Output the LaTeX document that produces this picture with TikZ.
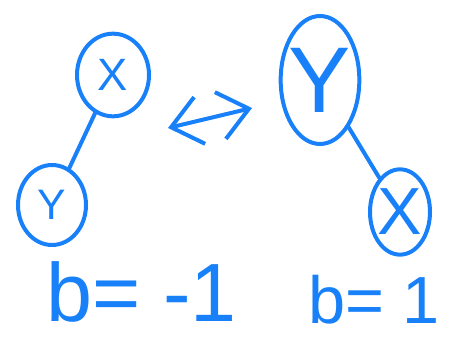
\documentclass[tikz,border=0pt]{standalone}
\usepackage{fontspec}
\setmainfont{Liberation Sans}
\usetikzlibrary{shapes.geometric}
\usetikzlibrary{arrows.meta}

\definecolor{pen}{RGB}{24,128,248}
% letter that does not widen its ellipse
\newcommand{\letr}[1]{\makebox[0pt]{#1}}

\begin{document}
\begin{tikzpicture}[x=0.75pt,y=-0.75pt,
    pen/.style={draw=pen, line width=3pt, line cap=round, line join=round},
    leaf/.style={pen, ellipse, inner sep=0pt, text=pen},
    label/.style={text=pen, inner sep=0pt, anchor=base west}]

    \useasboundingbox (0,0) rectangle (449,341);

    % Left tree: X above, Y below left
    \node[leaf, minimum width=54pt, minimum height=62pt, font=\fontsize{34}{34}\selectfont] (lx) at (113,75) {\letr{X}};
    \node[leaf, minimum width=51pt, minimum height=60pt, font=\fontsize{32}{32}\selectfont] (ly) at (52,205) {\letr{Y}};
    \draw[pen] (lx) -- (ly);

    % Right tree: Y above, X below right
    \node[leaf, minimum width=59pt, minimum height=96pt, font=\fontsize{70}{70}\selectfont] (ry) at (320,80) {\letr{Y}};
    \node[leaf, minimum width=45pt, minimum height=64pt, font=\fontsize{50}{50}\selectfont] (rx) at (400,212) {\letr{X}};
    \draw[pen] (ry) -- (rx);

    % Rotation between the two trees
    \coordinate (swapL) at (168,128);
    \coordinate (swapR) at (252,108);
    \draw[pen, {Straight Barb[length=22pt, width=36pt]}-{Straight Barb[length=22pt, width=36pt]}] (swapL) -- (swapR);

    % Balance factors
    \node[label, font=\fontsize{62}{62}\selectfont] (bl) at (46,322) {b= -1};
    \node[label, font=\fontsize{50}{50}\selectfont] (br) at (308,324) {b= 1};

\end{tikzpicture}
\end{document}
